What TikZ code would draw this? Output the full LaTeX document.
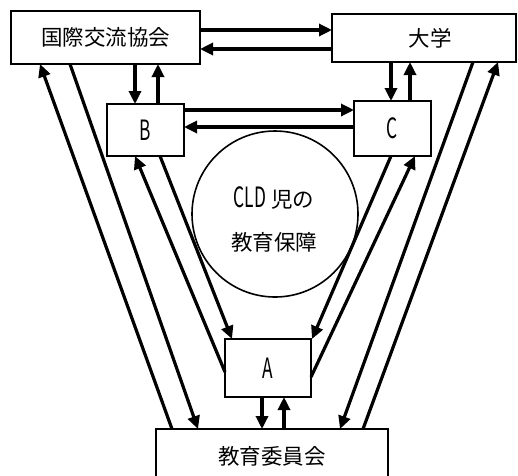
\documentclass[tikz,border=0pt]{standalone}
\usepackage{fontspec}
\setmainfont{Noto Sans CJK JP}
\newfontfamily\jpfont{Noto Sans CJK JP}
\newfontfamily\latinfont[FakeStretch=0.62,Scale=1.3]{Noto Sans CJK JP}
\usetikzlibrary{calc,arrows.meta}
\tikzset{
  box/.style={draw, line width=2.2pt, inner sep=0pt, outer sep=0pt, fill=white, font=\fontsize{21.5}{25}\selectfont},
  txt/.style={font=\fontsize{21.5}{25}\selectfont},
  arr/.style={line width=3.2pt, -{Triangle[length=13pt,width=12pt]}}
}
\begin{document}
\begin{tikzpicture}[x=1pt,y=-1pt]
\useasboundingbox (0,0) rectangle (518,475);
\node[box, minimum width=189pt, minimum height=53pt] (K) at (105.5,37.5) {国際交流協会};
\node[box, minimum width=184pt, minimum height=48pt] (D) at (424,38) {\hspace{12pt}大学};
\node[box, minimum width=77pt, minimum height=52pt] (B) at (145.5,130) {\latinfont B};
\node[box, minimum width=77pt, minimum height=55pt] (C) at (392.5,128.5) {\latinfont\raisebox{-3pt}{C}};
\node[box, minimum width=86pt, minimum height=58pt] (A) at (268,368) {\latinfont\raisebox{-4pt}{A}};
\node[box, minimum width=232pt, minimum height=54pt] (E) at (272,456) {教育委員会};
\node[draw, circle, line width=1.6pt, minimum size=166pt, inner sep=0pt] (O) at (275,214) {};
\node[txt] (T1) at (274,198) {\latinfont CLD\jpfont\ 児の};
\node[txt] (T2) at (274,242) {教育保障};
% top horizontal
\draw[arr] ($(K.north east)+(0,19)$) -- ($(D.north west)+(0,16)$);
\draw[arr] ($(D.north west)+(0,35)$) -- ($(K.north east)+(0,38)$);
% K-B
\draw[arr] ($(K.south west)+(124,0)$) -- ($(B.north west)+(28,0)$);
\draw[arr] ($(B.north west)+(51,0)$) -- ($(K.south west)+(147,0)$);
% D-C
\draw[arr] ($(D.south west)+(59,0)$) -- ($(C.north west)+(37,0)$);
\draw[arr] ($(C.north west)+(56,0)$) -- ($(D.south west)+(78,0)$);
% B-C
\draw[arr] ($(B.north east)+(0,6)$) -- ($(C.north west)+(0,9)$);
\draw[arr] ($(C.north west)+(0,26)$) -- ($(B.north east)+(0,23)$);
% A-E
\draw[arr] ($(A.south west)+(37,0)$) -- ($(E.north west)+(106,0)$);
\draw[arr] ($(E.north west)+(128,0)$) -- ($(A.south west)+(59,0)$);
% K-E
\draw[arr] ($(E.north west)+(16,0)$) -- ($(K.south west)+(29,0)$);
\draw[arr] ($(K.south west)+(59,0)$) -- ($(E.north west)+(42,0)$);
% A-B
\draw[arr] ($(A.north west)+(0,33)$) -- ($(B.south west)+(28,0)$);
\draw[arr] ($(B.south west)+(53,0)$) -- ($(A.north west)+(7,0)$);
% C-A
\draw[arr] ($(C.south west)+(37,0)$) -- ($(A.north east)+(1,0)$);
\draw[arr] ($(A.north east)+(0,38)$) -- ($(C.south west)+(61,0)$);
% D-E
\draw[arr] ($(D.south west)+(141,0)$) -- ($(E.north west)+(184,0)$);
\draw[arr] ($(E.north west)+(207,0)$) -- ($(D.south west)+(166,0)$);
\end{tikzpicture}
\end{document}
